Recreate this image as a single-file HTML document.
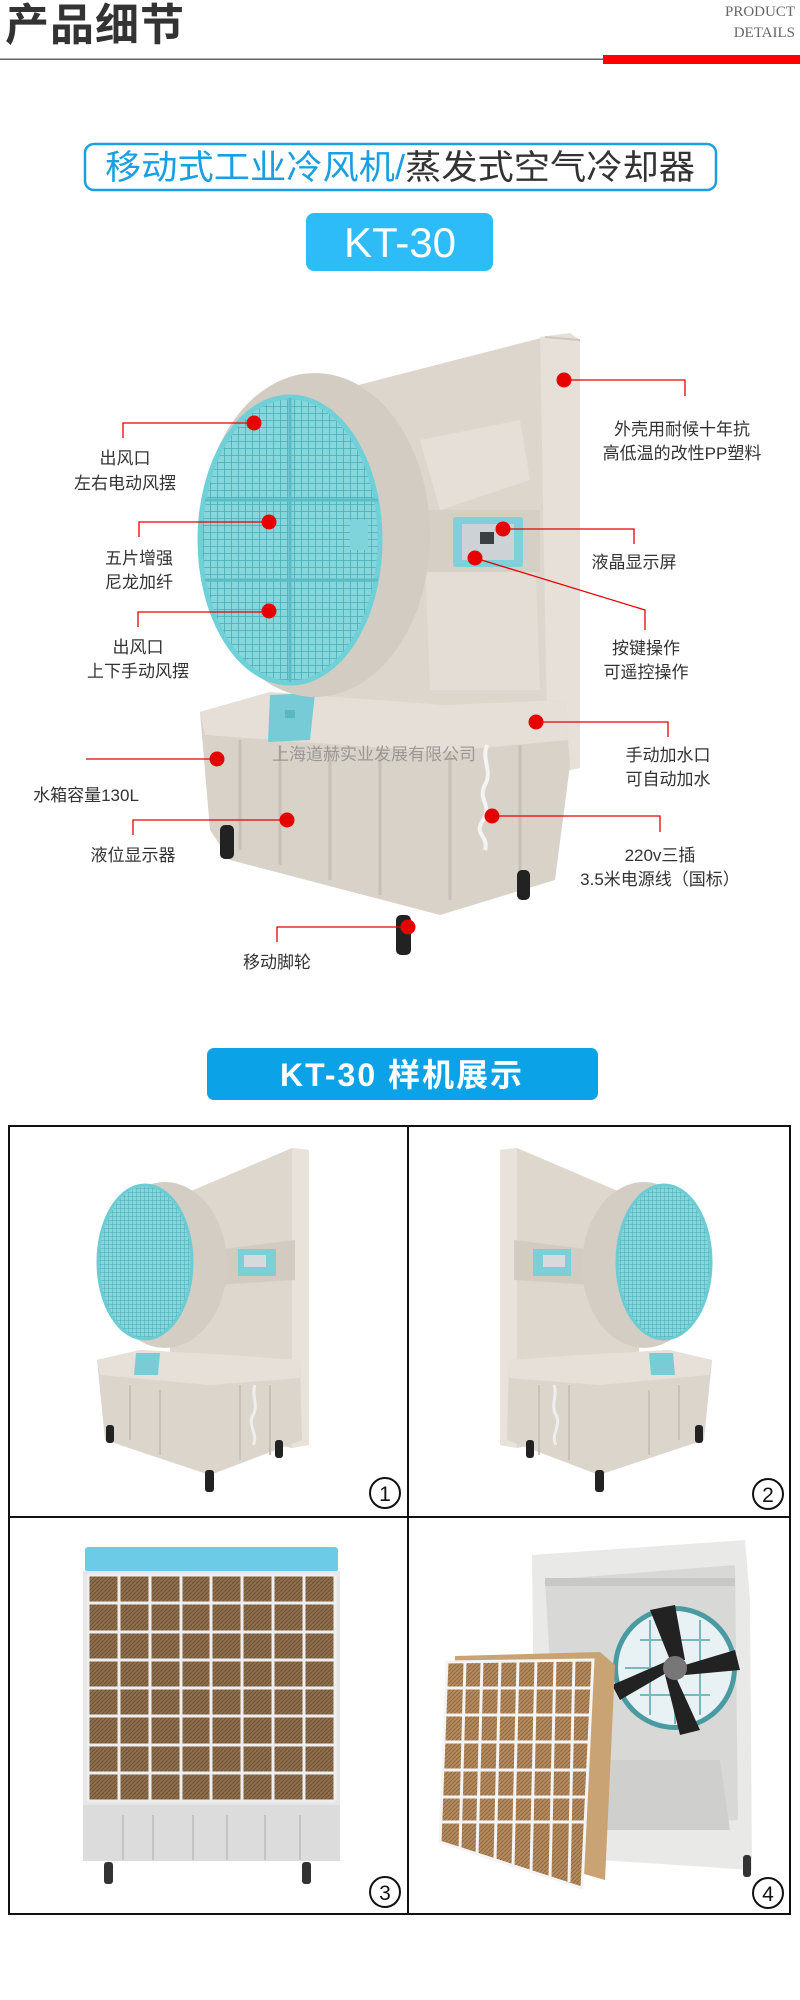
<!DOCTYPE html>
<html><head><meta charset="utf-8"><style>
html,body{margin:0;padding:0;background:#fff;}
svg{display:block;}
text{font-family:"Liberation Sans","Noto Sans CJK SC",sans-serif;}
</style></head><body>
<svg width="800" height="2000" viewBox="0 0 800 2000" xmlns="http://www.w3.org/2000/svg">
<defs>
<pattern id="grille" width="7" height="7" patternUnits="userSpaceOnUse">
<rect width="7" height="7" fill="#86d6dc"/>
<path d="M0 0H7M0 0V7" stroke="#45aeb8" stroke-width="1.6"/>
</pattern>
<pattern id="grilleS" width="4" height="4" patternUnits="userSpaceOnUse">
<rect width="4" height="4" fill="#86d6dc"/>
<path d="M0 0H4M0 0V4" stroke="#45aeb8" stroke-width="1"/>
</pattern>
<pattern id="pad" width="4" height="4" patternUnits="userSpaceOnUse">
<rect width="4" height="4" fill="#8f6e4c"/>
<path d="M0 4L4 0" stroke="#6e5236" stroke-width="1"/>
</pattern>
<pattern id="padL" width="4" height="4" patternUnits="userSpaceOnUse">
<rect width="4" height="4" fill="#b48a5c"/>
<path d="M0 4L4 0" stroke="#8e6a44" stroke-width="1"/>
</pattern>
<g id="mini">
  <polygon points="170,1200 292,1148 309,1150 309,1445 292,1448 170,1420" fill="#ded7ce"/>
  <polygon points="292,1148 309,1150 309,1445 292,1448" fill="#e8e2da"/>
  <polygon points="215,1250 295,1240 295,1280 215,1285" fill="#d2cbc2"/>
  <ellipse cx="165" cy="1265" rx="62" ry="83" fill="#d4cdc3"/>
  <ellipse cx="145" cy="1262" rx="47" ry="77" fill="url(#grilleS)" stroke="#6cccd4" stroke-width="3"/>
  <rect x="238" y="1249" width="38" height="27" fill="#7ccfd7"/>
  <rect x="244" y="1255" width="22" height="12" fill="#d6dadd"/>
  <polygon points="97,1360 140,1350 230,1355 300,1360 302,1440 210,1475 105,1440" fill="#dcd5cc"/>
  <polygon points="97,1360 140,1350 230,1355 300,1360 300,1378 210,1385 100,1375" fill="#e6e0d8"/>
  <path d="M130 1385V1440M160 1390V1455M240 1385V1460M270 1385V1455" stroke="#c9c1b7" stroke-width="2"/>
  <polygon points="136,1353 160,1353 158,1375 134,1375" fill="#78ccd6"/>
  <rect x="106" y="1425" width="8" height="18" rx="3" fill="#222"/>
  <rect x="205" y="1470" width="9" height="22" rx="3" fill="#222"/>
  <rect x="275" y="1440" width="8" height="18" rx="3" fill="#222"/>
  <path d="M255 1385c-4 10 4 20-2 30s6 20 0 30" stroke="#eee" stroke-width="3" fill="none"/>
</g>
</defs>

<!-- header -->
<text x="5" y="40" font-size="44" font-weight="bold" fill="#333" letter-spacing="1">产品细节</text>
<text x="795" y="16" font-size="15" fill="#666" text-anchor="end" style="font-family:'Liberation Serif',serif">PRODUCT</text>
<text x="795" y="37" font-size="15" fill="#666" text-anchor="end" style="font-family:'Liberation Serif',serif">DETAILS</text>
<rect x="0" y="58.5" width="603" height="1.5" fill="#666"/>
<rect x="603" y="55" width="197" height="9" fill="#ff0000"/>

<!-- title box -->
<rect x="85" y="144" width="631" height="46" rx="9" fill="none" stroke="#1a9fe2" stroke-width="2.5"/>
<text x="400" y="179" font-size="34" text-anchor="middle" textLength="590" lengthAdjust="spacingAndGlyphs"><tspan fill="#1a9fe2">移动式工业冷风机/</tspan><tspan fill="#333">蒸发式空气冷却器</tspan></text>
<rect x="306" y="213" width="187" height="58" rx="8" fill="#2ebcf8"/>
<text x="400" y="257" font-size="42" fill="#fff" text-anchor="middle">KT-30</text>

<!-- main machine -->
<polygon points="300,400 545,337 548,772 420,790 300,720" fill="#ddd6cd"/>
<polygon points="540,337 570,333 580,340 580,768 548,775" fill="#e6e0d8"/>
<path d="M545 337L580 340" stroke="#cfc7bd" stroke-width="2"/>
<polygon points="420,440 520,420 530,480 440,510" fill="#e5dfd7"/>
<polygon points="425,560 535,555 540,690 430,690" fill="#e3ddd5"/>
<rect x="425" y="510" width="115" height="62" fill="#d6cfc6"/>
<polygon points="200,712 270,692 445,705 565,700 570,765 555,880 440,915 230,860 210,830" fill="#d9d2c9"/>
<polygon points="200,712 270,692 445,705 565,700 568,740 440,752 205,735" fill="#e5dfd7"/>
<path d="M240 740V850M280 745V865M330 750V880M380 752V895M450 752V900M520 745V880" stroke="#c8c0b6" stroke-width="3"/>
<polygon points="270,695 315,693 310,740 268,742" fill="#76cbd6"/>
<rect x="285" y="710" width="10" height="8" fill="#5ab7c2"/>
<ellipse cx="315" cy="535" rx="115" ry="162" fill="#d3ccc2"/>
<ellipse cx="290" cy="540" rx="90" ry="143" fill="url(#grille)" stroke="#6fd0d8" stroke-width="5"/>
<path d="M205 500H378M205 580H378M290 398V682" stroke="#5bbcc6" stroke-width="3"/>
<rect x="350" y="520" width="18" height="30" fill="#7fd3da"/>
<rect x="453" y="517" width="70" height="50" rx="3" fill="#7fd0d8"/>
<rect x="462" y="524" width="52" height="36" fill="#ccd2d6"/>
<rect x="480" y="532" width="14" height="12" fill="#3a3f44"/>
<g fill="#222">
<rect x="220" y="825" width="14" height="34" rx="5"/>
<rect x="517" y="870" width="13" height="30" rx="5"/>
<rect x="396" y="915" width="15" height="40" rx="5"/>
</g>
<path d="M487 745c-6 15 6 25-2 40s8 20-2 35s6 15 2 30" stroke="#f4f4f4" stroke-width="4" fill="none"/>
<text x="374" y="760" font-size="17" fill="#8a8a8a" fill-opacity="0.8" text-anchor="middle">上海道赫实业发展有限公司</text>

<!-- callouts -->
<g stroke="#e60000" stroke-width="1.3" fill="none">
<path d="M123 438V423H254"/>
<path d="M139 537V522H269"/>
<path d="M138 627V612H269"/>
<path d="M86 759H217"/>
<path d="M133 835V820H287"/>
<path d="M277 942V927H408"/>
<path d="M564 380H685V396"/>
<path d="M503 529H634V544"/>
<path d="M475 558L645 610V630"/>
<path d="M536 722H668V737"/>
<path d="M492 816H660V832"/>
</g>
<g fill="#e60000">
<circle cx="254" cy="423" r="7.5"/><circle cx="269" cy="522" r="7.5"/><circle cx="269" cy="611" r="7.5"/>
<circle cx="217" cy="759" r="7.5"/><circle cx="287" cy="820" r="7.5"/><circle cx="408" cy="927" r="7.5"/>
<circle cx="564" cy="380" r="7.5"/><circle cx="503" cy="529" r="7.5"/><circle cx="475" cy="558" r="7.5"/>
<circle cx="536" cy="722" r="7.5"/><circle cx="492" cy="816" r="7.5"/>
</g>
<g font-size="17" fill="#333" text-anchor="middle">
<text x="125" y="464">出风口</text><text x="125" y="489">左右电动风摆</text>
<text x="139" y="564">五片增强</text><text x="139" y="588">尼龙加纤</text>
<text x="138" y="653">出风口</text><text x="138" y="677">上下手动风摆</text>
<text x="86" y="801">水箱容量130L</text>
<text x="133" y="861">液位显示器</text>
<text x="277" y="968">移动脚轮</text>
<text x="682" y="435">外壳用耐候十年抗</text><text x="682" y="459">高低温的改性PP塑料</text>
<text x="634" y="568">液晶显示屏</text>
<text x="646" y="654">按键操作</text><text x="646" y="678">可遥控操作</text>
<text x="668" y="761">手动加水口</text><text x="668" y="785">可自动加水</text>
<text x="660" y="861">220v三插</text><text x="660" y="885">3.5米电源线（国标）</text>
</g>

<!-- section 3 -->
<rect x="207" y="1048" width="391" height="52" rx="7" fill="#0ca2e8"/>
<text x="402" y="1086" font-size="32" font-weight="bold" fill="#fff" text-anchor="middle" letter-spacing="2">KT-30 样机展示</text>

<use href="#mini"/>
<use href="#mini" transform="translate(809,0) scale(-1,1)"/>

<!-- cell 3 -->
<rect x="85" y="1547" width="253" height="25" rx="3" fill="#6ccbe6"/>
<rect x="83" y="1571" width="257" height="234" fill="#e6e6e6"/>
<rect x="88" y="1575" width="247" height="226" fill="url(#pad)"/>
<g stroke="#eeeeee" stroke-width="3">
<path d="M88 1575V1801M119 1575V1801M150 1575V1801M181 1575V1801M211 1575V1801M242 1575V1801M273 1575V1801M304 1575V1801M335 1575V1801"/>
<path d="M88 1575H335M88 1603H335M88 1632H335M88 1660H335M88 1688H335M88 1716H335M88 1745H335M88 1773H335M88 1801H335"/>
</g>
<rect x="83" y="1805" width="257" height="56" fill="#dcdcdc"/>
<path d="M123 1815V1860M153 1815V1860M193 1815V1860M227 1815V1860M265 1815V1860M300 1815V1860" stroke="#c4c4c4" stroke-width="2"/>
<rect x="104" y="1862" width="9" height="22" rx="3" fill="#333"/>
<rect x="302" y="1862" width="9" height="22" rx="3" fill="#333"/>

<!-- cell 4 -->
<polygon points="532,1555 745,1540 750,1600 752,1870 600,1860 535,1830" fill="#e9e9e7"/>
<polygon points="545,1580 735,1565 738,1820 560,1830" fill="#d8d8d6"/>
<rect x="545" y="1578" width="190" height="8" fill="#c8c8c6"/>
<circle cx="675" cy="1668" r="62" fill="#4a9aa2"/>
<circle cx="675" cy="1668" r="57" fill="#e8f2f4"/>
<path d="M625 1668H725M675 1612V1724M640 1640H710M640 1695H710M650 1620V1715M700 1620V1715" stroke="#7ab8c0" stroke-width="2"/>
<g fill="#222">
<polygon points="670,1660 650,1610 675,1605 685,1660"/>
<polygon points="685,1665 735,1650 740,1670 685,1675"/>
<polygon points="675,1675 700,1730 680,1735 665,1675"/>
<polygon points="668,1672 620,1700 612,1685 665,1662"/>
</g>
<circle cx="675" cy="1668" r="12" fill="#777"/>
<polygon points="600,1760 720,1760 730,1830 605,1830" fill="#cfcfcd"/>
<polygon points="455,1656 600,1652 615,1665 605,1880 450,1835" fill="#c9a373"/>
<polygon points="447,1662 593,1660 582,1888 440,1842" fill="url(#padL)"/>
<g stroke="#f4f4f4" stroke-width="3" fill="none">
<polygon points="447,1662 593,1660 582,1888 440,1842"/>
<path d="M465 1662L460 1848M482 1662L477 1855M500 1662L495 1860M518 1661L513 1866M536 1661L531 1872M555 1661L550 1877M574 1660L569 1882"/>
<path d="M446 1688H592M445 1715H591M444 1742H589M443 1770H588M442 1797H586M441 1822H585"/>
</g>
<rect x="743" y="1855" width="8" height="22" rx="3" fill="#333"/>

<!-- grid -->
<g fill="none" stroke="#111" stroke-width="2">
<rect x="9" y="1126" width="781" height="788"/>
<path d="M408 1126V1914M9 1517H790"/>
</g>
<g fill="none" stroke="#111" stroke-width="2">
<circle cx="385" cy="1493" r="15"/><circle cx="768" cy="1494" r="15"/>
<circle cx="385" cy="1892" r="15"/><circle cx="768" cy="1893" r="15"/>
</g>
<g font-size="21" fill="#111" text-anchor="middle">
<text x="385" y="1501">1</text><text x="768" y="1502">2</text>
<text x="385" y="1900">3</text><text x="768" y="1901">4</text>
</g>
</svg>
</body></html>
